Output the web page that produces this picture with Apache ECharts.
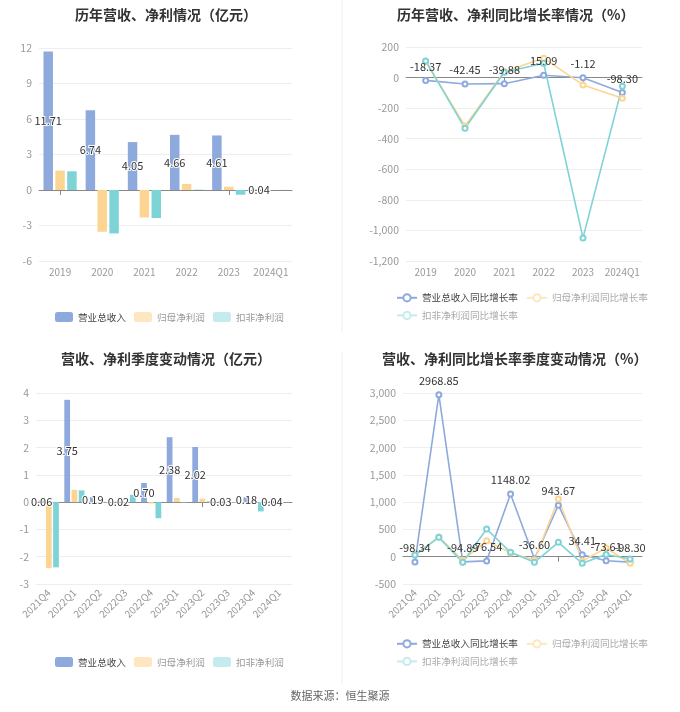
<!DOCTYPE html>
<html>
<head>
<meta charset="utf-8">
<script src="https://cdn.jsdelivr.net/npm/echarts@6/dist/echarts.min.js"></script>
<style>
html,body{margin:0;padding:0;background:#fff;}
#main{width:680px;height:712px;}
</style>
</head>
<body>
<div id="main"></div>
<script>
// ---- data ----
const yearCats = ['2019', '2020', '2021', '2022', '2023', '2024Q1'];
const yearRevenue = [11.71, 6.74, 4.05, 4.66, 4.61, 0.04];
const yearNetProfit = [1.64, -3.53, -2.32, 0.51, 0.28, 0.005];
const yearDeducted = [1.58, -3.67, -2.37, 0.03, -0.40, 0.01];

const yearRevenueYoY = [-18.37, -42.45, -39.88, 15.09, -1.12, -98.30];
const yearNetProfitYoY = [105, -317, 40, 127, -48, -135];
const yearDeductedYoY = [109, -332, 35, 94, -1049, -56];

const quarterCats = ['2021Q4', '2022Q1', '2022Q2', '2022Q3', '2022Q4', '2023Q1', '2023Q2', '2023Q3', '2023Q4', '2024Q1'];
const qRevenue = [0.06, 3.75, 0.19, 0.02, 0.70, 2.38, 2.02, 0.03, 0.18, 0.04];
const qNetProfit = [-2.42, 0.45, 0.01, 0.01, -0.05, 0.15, 0.13, -0.01, 0.02, 0.005];
const qDeducted = [-2.39, 0.43, -0.02, 0.27, -0.59, -0.02, 0.03, -0.03, -0.34, -0.01];

const qRevenueYoY = [-98.34, 2968.85, -94.89, -76.54, 1148.02, -36.60, 943.67, 34.41, -73.61, -98.30];
const qNetProfitYoY = [40, 360, -65, 293, 70, -60, 1058, -80, 160, -122];
const qDeductedYoY = [30, 355, -103, 508, 80, -103, 264, -121, 40, -42];

const barNames = ['营业总收入', '归母净利润', '扣非净利润'];
const lineNames = ['营业总收入同比增长率', '归母净利润同比增长率', '扣非净利润同比增长率'];

// ---- styles ----
const FONT = '"Noto Sans CJK SC", "Noto Sans", sans-serif';
const BLUE = '#8EAADC', ORANGE = '#FDD593', TEAL = '#7ED3D6';
const PALE_ORANGE = '#FDE6C0', PALE_TEAL = '#C4ECEE';
const fmtThousands = v => String(v).replace(/\B(?=(\d{3})+(?!\d))/g, ',');

function zeroAxis(gridIndex, cats) {
  return {
    type: 'category', gridIndex, data: cats,
    axisLine: { onZero: true, lineStyle: { color: '#888', width: 1 } },
    axisTick: { show: true, alignWithLabel: true, length: 5, lineStyle: { color: '#888' } },
    axisLabel: { show: false }, splitLine: { show: false }
  };
}
function labelAxis(gridIndex, cats, rotate) {
  return {
    type: 'category', gridIndex, data: cats, position: 'bottom',
    axisLine: { show: false, onZero: false }, axisTick: { show: false },
    axisLabel: { color: '#999', fontSize: 10, fontFamily: FONT, margin: rotate ? 7 : 6, rotate: rotate || 0, interval: 0 },
    splitLine: { show: false }
  };
}
function valAxis(gridIndex, min, max, interval, fmt) {
  return {
    type: 'value', gridIndex, min, max, interval,
    axisLine: { show: false }, axisTick: { show: false },
    axisLabel: { color: '#999', fontSize: 10.5, fontFamily: FONT, margin: 7, formatter: fmt },
    splitLine: { lineStyle: { color: '#EEEEEE' } }
  };
}
function barSeries(name, data, color, xIdx, yIdx, withLabel) {
  return {
    type: 'bar', name, data, xAxisIndex: xIdx, yAxisIndex: yIdx,
    barWidth: '22.5%', barGap: '25%',
    itemStyle: { color },
    label: withLabel ? {
      show: true, position: 'inside', color: '#333', fontSize: 11, fontFamily: FONT,
      textBorderColor: '#fff', textBorderWidth: 2,
      formatter: p => Number(p.value).toFixed(2)
    } : { show: false }
  };
}
function lineSeries(name, data, color, xIdx, yIdx, withLabel) {
  return {
    type: 'line', name, data, xAxisIndex: xIdx, yAxisIndex: yIdx,
    symbol: 'emptyCircle', symbolSize: 5,
    lineStyle: { color, width: 1.6 }, itemStyle: { color },
    label: withLabel ? {
      show: true, position: 'top', distance: 5, color: '#333', fontSize: 11, fontFamily: FONT,
      formatter: p => Number(p.value).toFixed(2)
    } : { show: false }
  };
}
function barLegend(top) {
  return {
    left: 50, top, itemWidth: 18, itemHeight: 10, itemGap: 8, icon: 'roundRect',
    textStyle: { fontSize: 9.6, fontFamily: FONT, color: '#999' },
    data: [
      { name: barNames[0], itemStyle: { color: BLUE }, textStyle: { color: '#444' } },
      { name: barNames[1], itemStyle: { color: PALE_ORANGE }, textStyle: { color: '#999' } },
      { name: barNames[2], itemStyle: { color: PALE_TEAL }, textStyle: { color: '#999' } }
    ]
  };
}
function lineLegend(top) {
  return {
    left: 391, top, width: 265, itemWidth: 20, itemHeight: 9, itemGap: 8,
    textStyle: { fontSize: 9.6, fontFamily: FONT, color: '#999' },
    data: [
      { name: lineNames[0], textStyle: { color: '#444' } },
      { name: lineNames[1], itemStyle: { color: PALE_ORANGE, borderColor: PALE_ORANGE }, lineStyle: { color: PALE_ORANGE }, textStyle: { color: '#aaa' } },
      { name: lineNames[2], itemStyle: { color: PALE_TEAL, borderColor: PALE_TEAL }, lineStyle: { color: PALE_TEAL }, textStyle: { color: '#aaa' } }
    ]
  };
}
const titleStyle = { fontSize: 14, fontWeight: 'bold', color: '#333', fontFamily: FONT };

const option = {
  backgroundColor: '#fff',
  animation: false,
  title: [
    { text: '历年营收、净利情况（亿元）', left: 70, top: 3, textStyle: titleStyle },
    { text: '历年营收、净利同比增长率情况（%）', left: 392, top: 3, textStyle: titleStyle },
    { text: '营收、净利季度变动情况（亿元）', left: 56, top: 347, textStyle: titleStyle },
    { text: '营收、净利同比增长率季度变动情况（%）', left: 377, top: 347, textStyle: titleStyle }
  ],
  legend: [barLegend(307), lineLegend(288), barLegend(652), lineLegend(634)],
  grid: [
    { left: 39, top: 48, width: 253, height: 213 },
    { left: 406, top: 47, width: 236, height: 214 },
    { left: 36, top: 393, width: 256, height: 191 },
    { left: 403, top: 393, width: 239, height: 191 }
  ],
  xAxis: [
    zeroAxis(0, yearCats), labelAxis(0, yearCats),
    zeroAxis(1, yearCats), labelAxis(1, yearCats),
    zeroAxis(2, quarterCats), labelAxis(2, quarterCats, 45),
    zeroAxis(3, quarterCats), labelAxis(3, quarterCats, 45)
  ],
  yAxis: [
    valAxis(0, -6, 12, 3),
    valAxis(1, -1200, 200, 200, fmtThousands),
    valAxis(2, -3, 4, 1),
    valAxis(3, -500, 3000, 500, fmtThousands)
  ],
  series: [
    barSeries(barNames[0], yearRevenue, BLUE, 0, 0, true),
    barSeries(barNames[1], yearNetProfit, ORANGE, 0, 0, false),
    barSeries(barNames[2], yearDeducted, TEAL, 0, 0, false),
    lineSeries(lineNames[0], yearRevenueYoY, BLUE, 2, 1, true),
    lineSeries(lineNames[1], yearNetProfitYoY, ORANGE, 2, 1, false),
    lineSeries(lineNames[2], yearDeductedYoY, TEAL, 2, 1, false),
    barSeries(barNames[0], qRevenue, BLUE, 4, 2, true),
    barSeries(barNames[1], qNetProfit, ORANGE, 4, 2, false),
    barSeries(barNames[2], qDeducted, TEAL, 4, 2, false),
    lineSeries(lineNames[0], qRevenueYoY, BLUE, 6, 3, true),
    lineSeries(lineNames[1], qNetProfitYoY, ORANGE, 6, 3, false),
    lineSeries(lineNames[2], qDeductedYoY, TEAL, 6, 3, false)
  ],
  graphic: [
    { type: 'line', shape: { x1: 342, y1: 0, x2: 342, y2: 333 }, style: { stroke: '#F0F0F0', lineWidth: 1 } },
    { type: 'line', shape: { x1: 342, y1: 352, x2: 342, y2: 685 }, style: { stroke: '#F0F0F0', lineWidth: 1 } },
    { type: 'text', left: 'center', top: 690, style: { text: '数据来源：恒生聚源', fill: '#666', font: '11px ' + FONT } }
  ]
};

const chart = echarts.init(document.getElementById('main'), null, { renderer: 'canvas' });
chart.setOption(option);
</script>
</body>
</html>
